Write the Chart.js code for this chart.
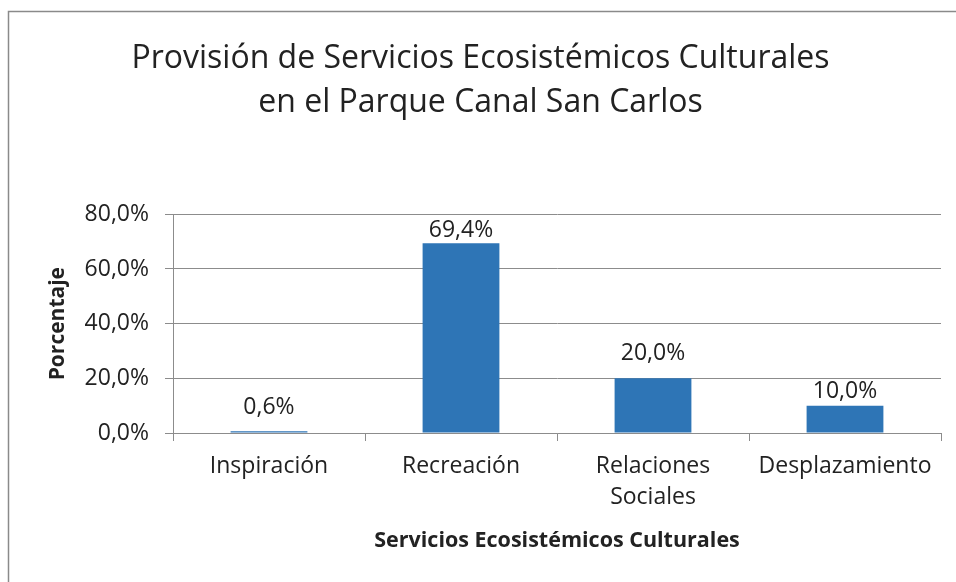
<!DOCTYPE html>
<html>
<head>
<meta charset="utf-8">
<script src="https://cdn.jsdelivr.net/npm/chart.js@4"></script>
<style>
  html, body { margin: 0; padding: 0; background: #ffffff; }
  #wrap { width: 956px; height: 582px; }
</style>
</head>
<body>
<div id="wrap"><canvas id="c" width="956" height="582"></canvas></div>
<script>
const titleLines = ['Provisión de Servicios Ecosistémicos Culturales', 'en el Parque Canal San Carlos'];
const categories = ['Inspiración', 'Recreación', ['Relaciones', 'Sociales'], 'Desplazamiento'];
const values = [0.6, 69.4, 20.0, 10.0];
const yTicks = [0, 20, 40, 60, 80];
const xAxisTitle = 'Servicios Ecosistémicos Culturales';
const yAxisTitle = 'Porcentaje';

const FONT = "'Open Sans', 'Noto Sans', sans-serif";
const TEXT = '#222222';
const GRID = '#8c8c8c';

function fmt(v) { return v.toFixed(1).replace('.', ',') + '%'; }

const framePlugin = {
  id: 'frame',
  beforeDraw(chart) {
    const ctx = chart.ctx;
    ctx.save();
    ctx.fillStyle = '#ffffff';
    ctx.fillRect(0, 0, chart.width, chart.height);
    ctx.strokeStyle = '#8a8a8a';
    ctx.lineWidth = 1.5;
    ctx.beginPath();
    ctx.moveTo(8.5, chart.height);
    ctx.lineTo(8.5, 11.5);
    ctx.lineTo(chart.width, 11.5);
    ctx.stroke();
    ctx.restore();
  }
};

const labelPlugin = {
  id: 'barLabels',
  afterDatasetsDraw(chart, args, opts) {
    const ctx = chart.ctx;
    const meta = chart.getDatasetMeta(0);
    const gaps = opts.gaps || [];
    ctx.save();
    ctx.font = "23px " + FONT;
    ctx.fillStyle = TEXT;
    ctx.textAlign = 'center';
    ctx.textBaseline = 'middle';
    meta.data.forEach((bar, i) => {
      const g = gaps[i] !== undefined ? gaps[i] : 25;
      ctx.fillText(fmt(values[i]), bar.x, bar.y - g);
    });
    ctx.restore();
  }
};

new Chart(document.getElementById('c'), {
  type: 'bar',
  data: {
    labels: categories,
    datasets: [{
      data: values,
      backgroundColor: '#2E75B6',
      borderWidth: 0,
      categoryPercentage: 1.0,
      barPercentage: 0.4
    }]
  },
  options: {
    responsive: false,
    animation: false,
    devicePixelRatio: 1,
    layout: { padding: { left: 20, right: 15, top: 0, bottom: 0 } },
    plugins: {
      legend: { display: false },
      tooltip: { enabled: false },
      barLabels: { gaps: [24, 13, 25, 14] },
      title: {
        display: true,
        text: titleLines,
        color: TEXT,
        font: { family: FONT, size: 32, weight: 'normal', lineHeight: 1.38 },
        padding: { top: 37, bottom: 89 }
      }
    },
    scales: {
      x: {
        afterFit(scale) { scale.height = 149; },
        grid: {
          display: true,
          drawOnChartArea: false,
          drawTicks: true,
          tickLength: 8,
          offset: true,
          color: GRID
        },
        border: { display: true, color: GRID },
        ticks: {
          color: TEXT,
          font: { family: FONT, size: 23, lineHeight: 1.35 },
          padding: 10,
          maxRotation: 0,
          autoSkip: false
        },
        title: {
          display: true,
          text: xAxisTitle,
          color: TEXT,
          font: { family: FONT, size: 21.5, weight: 'bold', lineHeight: 1.2 },
          padding: { top: 0, bottom: 28 }
        }
      },
      y: {
        min: 0,
        max: 80,
        afterFit(scale) { scale.width = 153; },
        afterBuildTicks(scale) { scale.ticks = yTicks.map(v => ({ value: v })); },
        grid: {
          color: GRID,
          tickLength: 8,
          drawTicks: true
        },
        border: { display: true, color: GRID },
        ticks: {
          color: TEXT,
          font: { family: FONT, size: 23 },
          padding: 16,
          callback: (v) => fmt(v)
        },
        title: {
          display: true,
          text: yAxisTitle,
          color: TEXT,
          font: { family: FONT, size: 21, weight: 'bold', lineHeight: 1.2 },
          padding: { top: 25, bottom: 0 }
        }
      }
    }
  },
  plugins: [framePlugin, labelPlugin]
});
</script>
</body>
</html>
